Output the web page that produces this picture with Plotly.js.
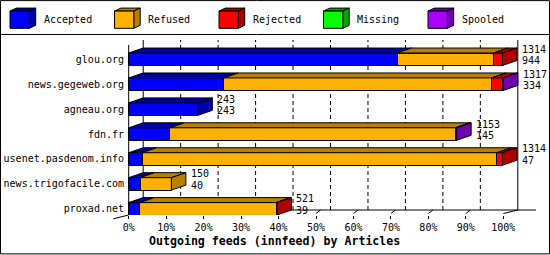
<!DOCTYPE html>
<html>
<head>
<meta charset="utf-8">
<script src="https://cdn.plot.ly/plotly-3.0.1.min.js"></script>
<style>
html,body{margin:0;padding:0;background:#fff;}
#chart{width:550px;height:255px;}
</style>
</head>
<body>
<div id="chart"></div>
<script>
// ---- data ----
const categories = ["glou.org", "news.gegeweb.org", "agneau.org", "fdn.fr", "usenet.pasdenom.info", "news.trigofacile.com", "proxad.net"];
const accepted = [944, 334, 243, 145, 47, 40, 39];
const refused  = [338, 941, 0, 1003, 1247, 110, 479];
const rejected = [32, 40, 0, 0, 20, 0, 3];
const missing  = [0, 0, 0, 0, 0, 0, 0];
const spooled  = [0, 2, 0, 5, 0, 0, 0];
const seriesNames = ["Accepted", "Refused", "Rejected", "Missing", "Spooled"];
const tickPercents = [0, 10, 20, 30, 40, 50, 60, 70, 80, 90, 100];
const titleText = "Outgoing feeds (innfeed) by Articles";

// ---- style ----
const frontColors = ["#0000ff", "#ffb000", "#ff0000", "#00ff00", "#aa00ff"];
const darkColors  = ["#0000a8", "#b88000", "#b00000", "#00a800", "#7000b0"];
const FONT = "DejaVu Sans Mono, monospace";

const series = [accepted, refused, rejected, missing, spooled];
const n = categories.length;
const yPos = categories.map((c, i) => n - 1 - i);
const totals = categories.map((c, i) => series.reduce((a, s) => a + s[i], 0));
const maxTotal = Math.max(...totals);

// geometry
const L = 128, R = 14, T = 40, B = 39.5, W = 550, H = 255;
const PW = W - L - R, PH = H - T - B;
const XR = [-2.46, 1431.9];
const YR = [-0.248, 6.772];
const artPerPx = (XR[1] - XR[0]) / PW;
const unitPerPx = (YR[1] - YR[0]) / PH;
const DX = 14.5 * artPerPx;
const DY = 5 * unitPerPx;
const BW = 0.5; // bar thickness
const xp = x => (x - XR[0]) / (XR[1] - XR[0]);
const yp = y => (y - YR[0]) / (YR[1] - YR[0]);
const pxp = px => (px - L) / PW;
const pyp = py => (T + PH - py) / PH;

const traces = [];
// front faces
series.forEach((s, k) => {
  traces.push({
    type: "bar", orientation: "h",
    x: s.map(v => v > 0 ? v : null), y: yPos,
    width: BW,
    marker: {color: frontColors[k], line: {color: "#000", width: 1}},
    hoverinfo: "skip", showlegend: false
  });
});
// top and side faces
const topX = series.map(() => []), topY = series.map(() => []);
const sideX = series.map(() => []), sideY = series.map(() => []);
categories.forEach((c, i) => {
  let base = 0, last = -1, lastEnd = 0;
  const yt = yPos[i] + BW / 2, yb = yPos[i] - BW / 2;
  series.forEach((s, k) => {
    const v = s[i];
    if (v > 0) {
      const x0 = base, x1 = base + v;
      topX[k].push(x0, x1, x1 + DX, x0 + DX, x0, null);
      topY[k].push(yt, yt, yt + DY, yt + DY, yt, null);
      last = k; lastEnd = x1;
    }
    base += v;
  });
  if (last >= 0) {
    sideX[last].push(lastEnd, lastEnd, lastEnd + DX, lastEnd + DX, lastEnd, null);
    sideY[last].push(yb, yt, yt + DY, yb + DY, yb, null);
  }
});
series.forEach((s, k) => {
  [[topX[k], topY[k]], [sideX[k], sideY[k]]].forEach(([xs, ys]) => {
    if (xs.length) traces.push({
      type: "scatter", mode: "lines", x: xs, y: ys, fill: "toself",
      fillcolor: darkColors[k], line: {color: "#000", width: 1},
      hoverinfo: "skip", showlegend: false
    });
  });
});

// ---- decorations ----
const shapes = [];
const line = (x0, y0, x1, y1, extra) => Object.assign({type: "line", xref: "paper", yref: "paper",
  x0: x0, y0: y0, x1: x1, y1: y1, line: {color: "#000", width: 1}}, extra || {});
// frame and divider
shapes.push({type: "rect", xref: "paper", yref: "paper", x0: pxp(0.5), x1: pxp(549.5), y0: pyp(0.5), y1: pyp(254.5), line: {color: "#000", width: 1}});
shapes.push(line(pxp(0), pyp(34.5), pxp(550), pyp(34.5)));
// back gridlines
tickPercents.forEach(p => {
  if (p > 0 && p < 100) {
    const x = maxTotal * p / 100 + DX;
    shapes.push(line(xp(x), yp(YR[0] + DY), xp(x), yp(YR[1]), {layer: "below", line: {color: "#000", width: 1, dash: "4px,3px"}}));
  }
});
// walls and floor
shapes.push(line(xp(0), yp(YR[0]), xp(0), yp(YR[1] - DY)));
shapes.push(line(xp(DX), yp(YR[0] + DY), xp(DX), yp(YR[1]), {layer: "below"}));
shapes.push(line(xp(maxTotal + DX), yp(YR[0] + DY), xp(maxTotal + DX), yp(YR[1])));
shapes.push(line(xp(DX), yp(YR[0] + DY), 1, yp(YR[0] + DY), {layer: "below"}));
shapes.push(line(xp(-15.4 * artPerPx), yp(YR[0] - 3.8 * unitPerPx), xp(0), yp(YR[0])));
shapes.push(line(xp(maxTotal), yp(YR[0] + 1.5 * unitPerPx), xp(maxTotal + DX), yp(YR[0] + DY)));
// 3d tick connectors
tickPercents.forEach(p => {
  if (p >= 50 && p < 100) {
    const x = maxTotal * p / 100;
    shapes.push(line(xp(x), yp(YR[0] + 1.5 * unitPerPx), xp(x + 4.5 * artPerPx), yp(YR[0] + DY)));
  }
});

// legend
const annotations = [];
seriesNames.forEach((name, k) => {
  const x0 = 10 + k * 104.5, x1 = x0 + 19.3, y0 = 11, y1 = 28.3, d = 6.4, e = 3;
  const P = (x, y) => pxp(x) + "," + pyp(y);
  shapes.push({type: "path", xref: "paper", yref: "paper",
    path: "M" + P(x0, y0) + "L" + P(x1, y0) + "L" + P(x1 + d, y0 - e) + "L" + P(x0 + d, y0 - e) + "Z",
    fillcolor: darkColors[k], line: {color: "#000", width: 1}});
  shapes.push({type: "path", xref: "paper", yref: "paper",
    path: "M" + P(x1, y0) + "L" + P(x1 + d, y0 - e) + "L" + P(x1 + d, y1 - e) + "L" + P(x1, y1) + "Z",
    fillcolor: darkColors[k], line: {color: "#000", width: 1}});
  shapes.push({type: "rect", xref: "paper", yref: "paper", x0: pxp(x0), x1: pxp(x1), y0: pyp(y0), y1: pyp(y1),
    fillcolor: frontColors[k], line: {color: "#000", width: 1}});
  annotations.push({xref: "paper", yref: "paper", x: pxp(x0 + 31.5), y: pyp(19.8), xanchor: "left", yanchor: "middle",
    text: name, showarrow: false, font: {family: FONT, size: 10, color: "#000"}});
});

// value labels
categories.forEach((c, i) => {
  const x = totals[i] + DX;
  annotations.push({x: x, y: yPos[i] + 10 * unitPerPx, xanchor: "left", yanchor: "middle", xshift: 3,
    text: String(totals[i]), showarrow: false, font: {family: FONT, size: 10, color: "#000"}});
  annotations.push({x: x, y: yPos[i] - 1.4 * unitPerPx, xanchor: "left", yanchor: "middle", xshift: 3,
    text: String(accepted[i]), showarrow: false, font: {family: FONT, size: 10, color: "#000"}});
});
// title
annotations.push({xref: "paper", yref: "paper", x: pxp(274.2), y: pyp(241.7), xanchor: "center", yanchor: "middle",
  text: "<b>" + titleText + "</b>", showarrow: false, font: {family: FONT, size: 11.6, color: "#000"}});

const layout = {
  width: W, height: H,
  margin: {l: L, r: R, t: T, b: B, pad: 0},
  paper_bgcolor: "#fff", plot_bgcolor: "#fff",
  barmode: "stack", bargap: 0,
  showlegend: false, hovermode: false,
  xaxis: {range: XR, showgrid: false, zeroline: false, showline: false,
    tickmode: "array", tickvals: tickPercents.map(p => maxTotal * p / 100), ticktext: tickPercents.map(p => p + "%"),
    ticks: "outside", ticklen: 3, tickcolor: "#000", tickwidth: 1,
    tickfont: {family: FONT, size: 10, color: "#000"}, fixedrange: true},
  yaxis: {range: YR, showgrid: false, zeroline: false, showline: false,
    tickmode: "array", tickvals: yPos, ticktext: categories, ticks: "",
    ticklabelstandoff: 3,
    tickfont: {family: FONT, size: 10, color: "#000"}, fixedrange: true},
  shapes: shapes,
  annotations: annotations
};
Plotly.newPlot("chart", traces, layout, {staticPlot: true, displayModeBar: false});
</script>
</body>
</html>
